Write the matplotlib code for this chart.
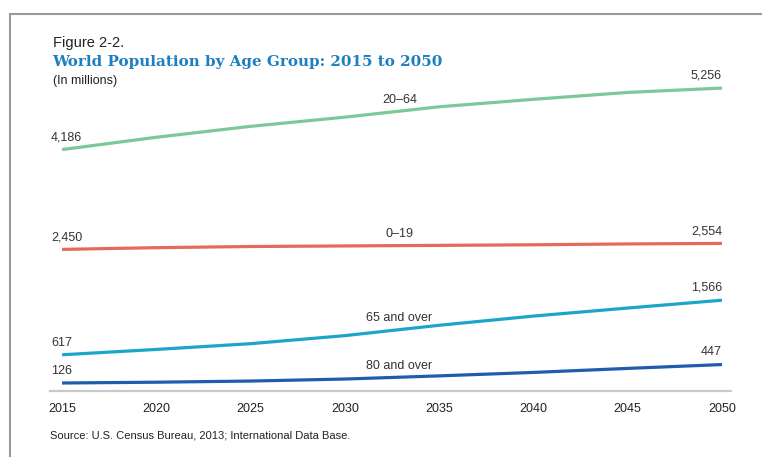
import matplotlib
matplotlib.use("Agg")
import matplotlib.pyplot as plt
from matplotlib.lines import Line2D
import numpy as np

years = [2015, 2020, 2025, 2030, 2035, 2040, 2045, 2050]
age_20_64 = [4186, 4400, 4590, 4750, 4930, 5060, 5180, 5256]
age_0_19 = [2450, 2480, 2500, 2510, 2520, 2530, 2545, 2554]
age_65_over = [617, 710, 810, 950, 1130, 1290, 1430, 1566]
age_80_over = [126, 140, 160, 195, 250, 310, 380, 447]

series_names = ["20\u201364", "0\u201319", "65 and over", "80 and over"]
series_values = [age_20_64, age_0_19, age_65_over, age_80_over]
series_colors = ["#7cc89a", "#e76a58", "#1ba6c9", "#1f5cae"]
start_labels = ["4,186", "2,450", "617", "126"]
end_labels = ["5,256", "2,554", "1,566", "447"]
tick_labels = ["2015", "2020", "2025", "2030", "2035", "2040", "2045", "2050"]

W, H = 762, 457
fig = plt.figure(figsize=(W / 100, H / 100), dpi=100)
fig.patch.set_facecolor("white")

left_px, right_px, top_px, bot_px = 50, 731, 60, 391
ax = fig.add_axes([left_px / W, 1 - bot_px / H, (right_px - left_px) / W, (bot_px - top_px) / H])
ax.set_xlim(2014.36, 2050.48)
ax.set_ylim(-13, 5744)

sans = "Liberation Sans"
txtcol = "#333333"
lblsize = 9

for name, vals, col, sl, el in zip(series_names, series_values, series_colors, start_labels, end_labels):
    ax.plot(years, vals, color=col, lw=2.3, solid_capstyle="butt", solid_joinstyle="round", zorder=3)
    ax.annotate(sl, (years[0], vals[0]), xytext=(-8, 4.5), textcoords="offset points",
                ha="left", va="bottom", fontsize=lblsize, color=txtcol, family=sans)
    ax.annotate(el, (years[-1], vals[-1]), xytext=(0, 4.5), textcoords="offset points",
                ha="right", va="bottom", fontsize=lblsize, color=txtcol, family=sans)
    xm = 2032.9
    vm = float(np.interp(xm, years, vals))
    ax.annotate(name, (xm, vm), xytext=(0, 4), textcoords="offset points",
                ha="center", va="bottom", fontsize=lblsize, color=txtcol, family=sans)

for s in ["top", "right", "left"]:
    ax.spines[s].set_visible(False)
ax.spines["bottom"].set_color("#c9c9c9")
ax.spines["bottom"].set_linewidth(1.6)
ax.set_yticks([])
ax.set_xticks(years)
ax.set_xticklabels(tick_labels, fontsize=9, color="#222222", family=sans)
ax.tick_params(axis="x", length=0, pad=9)

# Titles
fig.text(53 / W, 1 - 47 / H, "Figure 2-2.", fontsize=10.5, color="#222222", family=sans,
         ha="left", va="baseline")
fig.text(52 / W, 1 - 66 / H, "World Population by Age Group: 2015 to 2050", fontsize=10.9,
         color="#1b7fc0", family="DejaVu Serif", weight="bold", ha="left", va="baseline")
fig.text(53 / W, 1 - 84 / H, "(In millions)", fontsize=9, color="#222222", family=sans,
         ha="left", va="baseline")
fig.text(50 / W, 1 - 438 / H, "Source: U.S. Census Bureau, 2013; International Data Base.",
         fontsize=8, color="#222222", family=sans, ha="left", va="baseline")

# frame lines
fig.add_artist(Line2D([10 / W, 1.0], [1 - 14 / H, 1 - 14 / H], color="#9a9a9a", lw=1.5))
fig.add_artist(Line2D([10 / W, 10 / W], [1 - 14 / H, 0], color="#9a9a9a", lw=1.5))

fig.savefig("out.png", dpi=100, facecolor="white")
